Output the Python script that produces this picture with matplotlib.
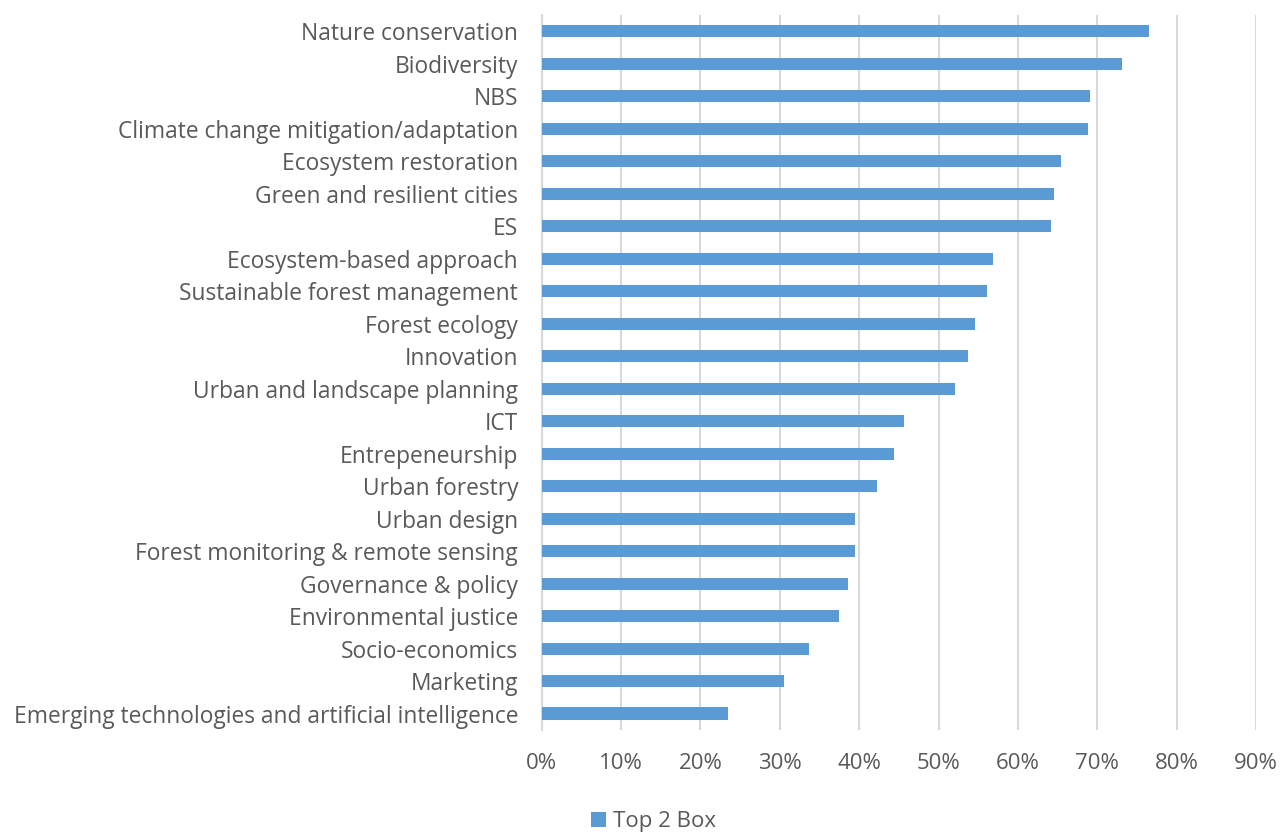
import matplotlib.pyplot as plt
from matplotlib.ticker import PercentFormatter

# Share of respondents rating each topic in the top two boxes (%)
topics = [
    'Nature conservation',
    'Biodiversity',
    'NBS',
    'Climate change mitigation/adaptation',
    'Ecosystem restoration',
    'Green and resilient cities',
    'ES',
    'Ecosystem-based approach',
    'Sustainable forest management',
    'Forest ecology',
    'Innovation',
    'Urban and landscape planning',
    'ICT',
    'Entrepeneurship',
    'Urban forestry',
    'Urban design',
    'Forest monitoring & remote sensing',
    'Governance & policy',
    'Environmental justice',
    'Socio-economics',
    'Marketing',
    'Emerging technologies and artificial intelligence',
]
top2 = [76.5, 73.1, 69.1, 68.8, 65.4, 64.6, 64.2, 56.9, 56.1, 54.6, 53.7,
        52.1, 45.6, 44.4, 42.3, 39.5, 39.5, 38.6, 37.4, 33.7, 30.5, 23.5]
xticks = list(range(0, 100, 10))

text_color = '#595959'
bar_color = '#5B9BD5'
grid_color = '#D9D9D9'

plt.rcParams['font.family'] = ['Open Sans', 'DejaVu Sans']

fig = plt.figure(figsize=(12.81, 8.34), dpi=100)
ax = fig.add_axes([0.4229, 0.125, 0.5576, 0.857])

pos = list(range(len(topics)))[::-1]
ax.barh(pos, top2, height=0.37, color=bar_color, label='Top 2 Box', zorder=3)

ax.set_xlim(0, 90)
ax.set_ylim(-0.5, len(topics) - 0.5)
ax.set_xticks(xticks)
ax.xaxis.set_major_formatter(PercentFormatter(decimals=0))
ax.set_yticks(pos)
ax.set_yticklabels(topics)

ax.grid(axis='x', color=grid_color, linewidth=1.5, zorder=0)
for side in ['top', 'right', 'bottom']:
    ax.spines[side].set_visible(False)
ax.spines['left'].set_color(grid_color)
ax.spines['left'].set_linewidth(1.5)

ax.tick_params(axis='y', length=0, pad=17, labelsize=16.4, labelcolor=text_color)
ax.tick_params(axis='x', length=0, pad=17, labelsize=16, labelcolor=text_color)

fig.legend(loc='lower center', bbox_to_anchor=(0.51, -0.022), frameon=False,
           fontsize=16, labelcolor=text_color, handlelength=0.7, handleheight=0.7,
           handletextpad=0.3)

fig.savefig('out.png', dpi=100)
